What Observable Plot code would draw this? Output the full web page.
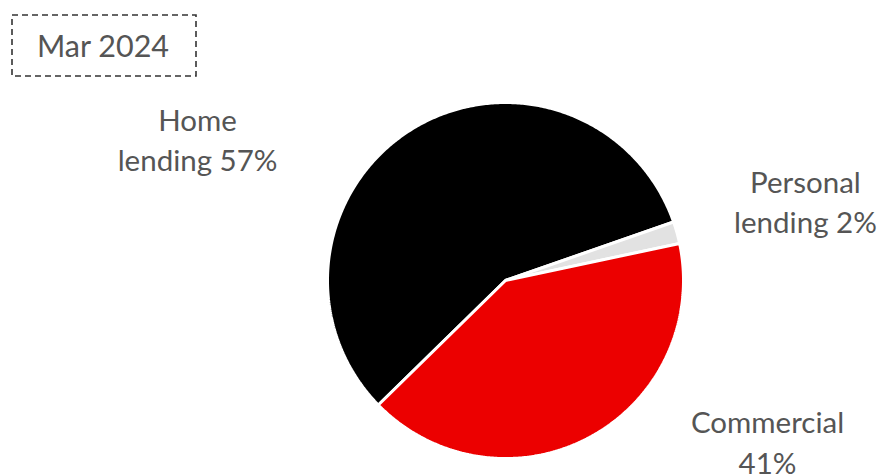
<!DOCTYPE html>
<html>
<head>
<meta charset="utf-8">
<script src="https://cdn.jsdelivr.net/npm/d3@7"></script>
<script src="https://cdn.jsdelivr.net/npm/@observablehq/plot@0.6"></script>
<style>
  body { margin: 0; background: #fff; font-family: Lato, "Noto Sans", sans-serif; }
  #wrap { position: relative; width: 883px; height: 476px; overflow: hidden; }
  #titlebox { position: absolute; left: 0; top: 0; }
</style>
</head>
<body>
<div id="wrap">
  <div id="chart"></div>
  <svg id="titlebox" width="210" height="90">
    <rect x="12" y="15" width="184" height="61" fill="none" stroke="#333" stroke-width="1.6" stroke-dasharray="6,4"></rect>
    <text x="103" y="56.5" text-anchor="middle" font-family="Lato, 'Noto Sans', sans-serif" font-size="30.5" fill="#555">Mar 2024</text>
  </svg>
</div>
<script>
const categories = ["Home lending", "Personal lending", "Commercial"];
const shares = [57, 2, 41];
const labelLines = [["Home", "lending 57%"], ["Personal", "lending 2%"], ["Commercial", "41%"]];
const sliceColors = ["#000000", "#e2e2e2", "#ec0000"];

// layout (not data)
const cx = 505, cy = 280, R = 178;
const startDeg = 225.6;
const labelPos = [[-1.73, 0.80], [1.685, 0.45], [1.472, -0.90]];

const a0 = startDeg * Math.PI / 180;
const arcs = d3.pie().sort(null).startAngle(a0).endAngle(a0 + 2 * Math.PI)(shares);

const pts = [];
arcs.forEach((a, i) => {
  const cat = categories[i];
  pts.push({cat, x: 0, y: 0});
  const n = Math.max(4, Math.ceil((a.endAngle - a.startAngle) / 0.01));
  for (let k = 0; k <= n; k++) {
    const t = a.startAngle + (a.endAngle - a.startAngle) * k / n;
    pts.push({cat, x: Math.sin(t), y: Math.cos(t)});
  }
});

const labels = categories.map((c, i) => ({
  cat: c, x: labelPos[i][0], y: labelPos[i][1], text: labelLines[i].join("\n")
}));

const chart = Plot.plot({
  width: 883, height: 476,
  margin: 0,
  x: {domain: [-1, 1], range: [cx - R, cx + R], axis: null},
  y: {domain: [-1, 1], range: [cy + R, cy - R], axis: null},
  color: {domain: categories, range: sliceColors},
  style: {fontFamily: "Lato, 'Noto Sans', sans-serif", background: "#fff"},
  marks: [
    Plot.line(pts, {x: "x", y: "y", z: "cat", fill: "cat", stroke: "#fff", strokeWidth: 3, strokeLinejoin: "miter", curve: "linear-closed"}),
    Plot.text(labels, {x: "x", y: "y", text: "text", fontSize: 29.5, lineHeight: 1.36, fill: "#555", textAnchor: "middle", lineAnchor: "middle"})
  ]
});
document.getElementById("chart").appendChild(chart);
</script>
</body>
</html>
